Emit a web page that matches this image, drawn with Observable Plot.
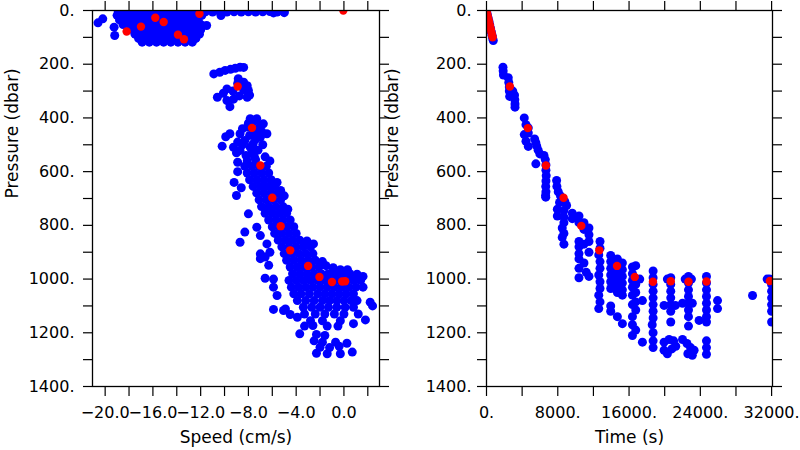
<!DOCTYPE html>
<html><head><meta charset="utf-8">
<script src="https://cdn.jsdelivr.net/npm/d3@7"></script>
<script src="https://cdn.jsdelivr.net/npm/@observablehq/plot@0.6"></script>
<style>
html,body{margin:0;padding:0;background:#fff;}
#wrap{position:relative;width:800px;height:450px;overflow:hidden;background:#fff;}
#left,#right{position:absolute;top:0;}
#left{left:0;width:400px;}
#right{left:380px;width:420px;}
</style></head><body>
<div id="wrap"><div id="left"></div><div id="right"></div></div>
<script>
// ---- Data: left panel (speed cm/s, pressure dbar)
const leftBlue = [
[-18.9,4],[-18.3,4],[-17.6,4],[-17.0,4],[-16.4,4],[-15.8,4],[-15.2,4],[-14.6,4],[-14.0,4],[-13.4,4],[-12.8,4],[-12.2,4],[-11.6,5],[-11.0,6],[-10.4,5],[-9.8,6],[-9.2,5],[-8.6,6],[-8.0,5],[-7.4,6],[-6.8,5],[-6.2,4],[-5.6,6],[-5.0,5],
[-19.0,18],[-18.5,18],[-17.9,18],[-17.3,18],[-16.7,18],[-16.1,18],[-15.5,18],[-14.9,18],[-14.3,18],[-13.7,18],[-13.1,18],[-12.5,18],[-11.9,18],[-10.3,19],[-5.9,9],[-5.0,8],
[-18.8,35],[-18.2,35],[-17.6,35],[-17.0,35],[-16.4,35],[-15.8,35],[-15.2,35],[-14.6,35],[-14.0,35],[-13.4,35],[-12.8,35],[-12.2,35],
[-18.5,52],[-17.9,52],[-17.3,52],[-16.7,52],[-16.1,52],[-15.5,52],[-14.9,52],[-14.3,52],[-13.7,52],[-13.1,52],[-12.5,52],[-12.0,52],[-11.5,56],
[-17.9,70],[-17.3,70],[-16.7,70],[-16.1,70],[-15.5,70],[-14.9,70],[-14.3,70],[-13.7,70],[-13.1,70],[-12.5,70],[-12.0,72],
[-17.5,88],[-16.9,88],[-16.3,88],[-15.7,88],[-15.1,88],[-14.5,88],[-13.9,88],[-13.3,88],[-12.7,88],[-12.1,88],
[-17.2,104],[-16.6,104],[-16.0,104],[-15.4,104],[-14.8,104],[-14.2,104],[-13.6,104],[-13.0,104],[-12.4,104],
[-16.9,118],[-16.3,118],[-15.7,118],[-15.1,118],[-14.5,118],[-13.9,118],[-13.3,118],[-12.7,118],
[-20.6,46],[-20.2,31],[-19.25,62],[-19.2,93],
[-10.9,236],[-10.4,230],[-9.95,223],[-9.5,219],[-9.1,215],[-8.7,211],[-8.4,212],
[-8.85,254],[-8.4,267],[-8.9,272],[-8.1,280],[-8.0,298],[-8.4,295],[-7.9,315],[-9.3,300],[-9.8,292],[-10.6,323],[-10.1,308],[-9.8,335],[-9.55,358],[-9.25,330],[-8.75,318],[-8.1,323],
[-7.85,403],[-7.3,403],[-6.75,422],[-6.45,459],[-7.0,472],[-7.6,496],[-8.3,484],[-8.7,459],[-8.1,434],[-7.4,445],[-7.0,430],[-9.55,459],[-9.25,509],[-10.2,505],[-8.7,521],[-7.85,509],[-7.2,520],[-8.2,540],[-7.5,545],
[-7.6,415],[-8.0,420],[-7.3,460],[-7.9,465],[-8.5,500],[-7.4,480],[-6.9,450],[-8.9,490],[-9.9,470],[-9.0,530],[-7.7,530],[-6.8,500],[-8.5,440],
[-8.9,565],[-8.1,560],[-7.4,555],[-6.6,545],[-6.2,560],
[-8.3,580],[-7.7,580],[-7.1,580],[-6.5,580],
[-8.1,605],[-7.5,605],[-6.9,605],[-6.3,605],[-8.9,600],
[-7.9,630],[-7.3,630],[-6.7,630],[-6.1,630],[-5.6,640],[-9.2,640],
[-7.6,655],[-7.0,655],[-6.4,655],[-5.8,655],[-8.6,660],[-5.3,670],
[-7.3,680],[-6.7,680],[-6.1,680],[-5.5,680],[-9.0,689],[-5.0,690],
[-7.1,705],[-6.5,705],[-5.9,705],[-5.3,705],
[-6.9,730],[-6.3,730],[-5.7,730],[-5.1,730],[-4.7,740],
[-6.6,755],[-6.0,755],[-5.4,755],[-4.8,755],[-8.0,757],
[-6.3,780],[-5.7,780],[-5.1,780],[-4.5,780],
[-6.0,805],[-5.4,805],[-4.8,805],[-4.2,805],[-7.3,807],
[-5.8,830],[-5.2,830],[-4.6,830],[-4.0,830],[-8.3,825],[-7.0,838],
[-5.5,855],[-4.9,855],[-4.3,855],[-3.7,855],[-3.1,858],[-8.7,863],
[-5.2,880],[-4.6,880],[-4.0,880],[-3.4,880],[-2.8,880],[-6.45,869],[-2.55,869],
[-5.0,905],[-4.4,905],[-3.8,905],[-3.2,905],[-2.6,905],[-7.0,906],[-6.2,900],
[-4.8,930],[-4.2,930],[-3.6,930],[-3.0,930],[-2.4,930],[-1.8,935],[-6.6,918],[-7.0,924],
[-4.5,955],[-3.9,955],[-3.3,955],[-2.7,955],[-2.1,955],[-1.5,950],[-0.9,958],[-0.3,965],[0.3,965],[-6.3,949],
[-4.3,980],[-3.7,980],[-3.1,980],[-2.5,980],[-1.9,980],[-1.3,980],[-0.7,980],[-0.1,980],[0.5,980],[1.1,982],[1.6,990],
[-4.6,1005],[-4.0,1005],[-3.4,1005],[-2.8,1005],[-2.2,1005],[-1.6,1005],[-1.0,1005],[-0.4,1005],[0.2,1005],[0.8,1005],[1.4,1005],[-6.6,997],[-5.9,1000],
[-4.4,1030],[-3.8,1030],[-3.2,1030],[-2.6,1030],[-2.0,1030],[-1.4,1030],[-0.8,1030],[-0.2,1030],[0.4,1030],[1.0,1030],[1.6,1030],[-5.9,1030],
[-4.2,1055],[-3.6,1055],[-2.9,1055],[-2.2,1055],[-1.6,1055],[-1.0,1055],[-0.4,1055],[0.2,1055],[0.8,1055],[-5.6,1061],
[-3.9,1080],[-3.2,1080],[-2.5,1080],[-1.8,1080],[-1.2,1080],[-0.6,1080],[0.0,1080],[0.6,1080],[1.1,1080],[2.2,1086],
[-3.4,1105],[-2.7,1105],[-2.0,1105],[-1.3,1105],[-0.6,1105],[0.1,1105],[0.8,1105],[2.4,1100],[-5.9,1113],[-4.9,1111],[-5.06,1117],
[-4.5,1132],[-3.3,1130],[-2.4,1130],[-1.6,1130],[-0.8,1130],[0.0,1130],[1.2,1130],
[-3.9,1142],[-2.8,1155],[-1.8,1155],[-0.3,1155],[0.8,1166],[1.8,1152],
[-3.3,1175],[-2.6,1173],[-1.4,1175],[-0.5,1175],
[-3.7,1204],[-2.3,1206],[-1.6,1210],
[-2.5,1230],[-1.8,1235],[-0.7,1235],[0.25,1239],
[-2.0,1254],[-1.2,1255],[-0.4,1250],
[-2.3,1276],[-1.4,1278],[-0.3,1278],[0.7,1272]
];
const leftRed = [[-18.2,78],[-17.0,60],[-15.8,27],[-15.1,43],[-13.9,90],[-13.4,107],[-12.1,12],[-0.05,0],[-8.9,283],[-7.7,437],[-7.0,577],[-6.0,697],[-5.3,803],[-4.5,893],[-3.0,951],[-2.05,992],[-1.0,1011],[-0.15,1009],[0.1,1008]];

// ---- Data: right panel (time s, pressure dbar)
const rightBlue = [
[0,3],[90,15],[180,28],[270,40],[360,53],[450,66],[540,80],[620,92],[700,104],[760,112],
[1850,211],[1870,225],[1900,240],
[2440,250],[2500,268],[2560,285],[2560,300],[2600,320],[2950,300],[3000,315],[3150,315],[3180,332],[3200,348],[3200,360],
[4240,400],[4430,425],[4690,437],[4690,456],[4240,462],[4430,487],[4690,506],
[5400,478],[5540,492],[5640,505],[5800,520],[5990,534],[5540,571],
[6450,540],[6600,555],[6670,575],[6670,595],[6700,615],[6670,635],[6650,655],[6670,675],[6650,695],[6630,689],
[7870,633],[7900,655],[8050,675],[8300,690],[8550,700],[8800,712],[8990,726],[8200,715],
[7950,740],[7950,765],[8690,745],[8690,770],[8690,790],[8500,810],[8690,830],[8500,845],[8690,870],[9630,755],[9630,775],
[10380,765],[10380,790],[10940,790],[10940,815],[11500,810],[11500,835],[10380,860],[10380,880],[10940,870],[11500,860],[10380,905],[10380,925],[10940,940],[10380,960],[10380,995],[11500,990],[11200,975],[11500,900],
[12740,860],[12740,885],[12600,910],[12740,935],[12740,960],[12600,985],[12740,1010],[12740,1035],[12600,1060],[12740,1085],[12600,1110],
[13940,912],[13940,935],[13940,960],[13940,985],[13940,1010],[13940,1035],[13940,1100],[13940,1120],
[14690,925],[14690,950],[14690,975],[14690,1000],[14690,1025],[14690,1050],[14690,1140],
[15250,940],[15250,965],[15250,990],[15250,1015],[15250,1040],[15250,1060],[15250,1166],
[16380,955],[16750,950],[16380,980],[16380,1005],[16750,1020],[16380,1030],[16750,1050],[16380,1060],[16750,1085],[16380,1095],[16750,1115],[16380,1140],[17500,1080],[16380,1170],[16750,1190],[16380,1210],[17500,1235],[17200,1000],
[18700,970],[18700,995],[18700,1020],[18700,1045],[18700,1070],[18700,1095],[18700,1120],[18700,1145],[18600,1170],[18700,1200],[18700,1230],[18700,1255],
[20680,995],[20680,1020],[20300,1000],[20680,1045],[20680,1070],[20680,1095],[19930,1098],[21200,1098],[20680,1120],[20680,1160],[19930,1235],[20500,1225],[21000,1230],[19930,1265],[20300,1278],[20800,1260],[21240,1250],
[22670,990],[22300,1000],[23000,1000],[22670,1015],[22670,1040],[22670,1065],[22000,1090],[22670,1090],[23100,1090],[22670,1115],[22670,1140],[22670,1175],[23860,1154],[22000,1225],[22500,1240],[22900,1255],[23300,1265],[22600,1278],[23100,1284],
[24690,990],[24690,1015],[24690,1040],[24690,1065],[24690,1090],[24690,1115],[24690,1140],[24690,1160],[24690,1230],[24690,1255],[24690,1280],
[25930,1080],[25930,1110],
[29860,1061],
[31500,1000],[31810,1000],[32000,1020],[32000,1045],[32000,1070],[32000,1095],[32000,1120],[32000,1160]
];
const rightRed = [[0,2],[70,12],[140,22],[210,32],[280,42],[350,52],[420,62],[490,72],[560,82],[630,92],[690,100],
[2620,283],[4640,438],[6670,577],[8650,697],[10640,802],[12660,893],[14650,951],[16640,992],[18680,1010],[20680,1008],[22670,1010],[24690,1009],[31810,1007]];

// ---- Ticks / labels
const pressureTicks = [0,100,200,300,400,500,600,700,800,900,1000,1100,1200,1300,1400];
const pressureLabels = [0,200,400,600,800,1000,1200,1400];
const speedTicks = [-20,-18,-16,-14,-12,-10,-8,-6,-4,-2,0,2];
const speedLabels = [-20,-16,-12,-8,-4,0];
const timeTicks = [0,4000,8000,12000,16000,20000,24000,28000,32000];
const timeLabels = [0,8000,16000,24000,32000];

const FONT = "DejaVu Sans";
const fmtP = d => pressureLabels.includes(d) ? d + "." : "";
const fmtS = d => speedLabels.includes(d) ? d.toFixed(1).replace("-", "\u2212") : "";
const fmtT = d => timeLabels.includes(d) ? d + "." : "";

function panel({blue, red, xDomain, xTicks, xFmt, xTitle, mL, mR, width, yPad, yTitleDx}) {
  return Plot.plot({
    width, height: 450,
    marginLeft: mL, marginRight: mR, marginTop: 10, marginBottom: 64,
    style: {fontFamily: FONT, fontSize: "16px", color: "black", background: "transparent", overflow: "visible"},
    x: {domain: xDomain},
    y: {domain: [0, 1400], reverse: true},
    marks: [
      Plot.dot(blue, {x: d => d[0], y: d => d[1], r: 4.5, fill: "#0000ff", clip: true}),
      Plot.dot(red, {x: d => d[0], y: d => d[1], r: 4.2, fill: "#ff0000", clip: true}),
      Plot.frame({stroke: "black", strokeWidth: 1.3}),
      Plot.axisX(xTicks, {anchor: "bottom", tickSize: 10, tickPadding: 10, tickFormat: xFmt, label: null, strokeWidth: 1.2, fontSize: 16, letterSpacing: 0.3}),
      Plot.axisX(xTicks, {anchor: "top", tickSize: 10, tickFormat: () => "", label: null, strokeWidth: 1.2}),
      Plot.axisY(pressureTicks, {anchor: "left", tickSize: 9, tickPadding: yPad, tickFormat: fmtP, label: null, strokeWidth: 1.2, fontSize: 16, letterSpacing: 0.3}),
      Plot.axisY(pressureTicks, {anchor: "right", tickSize: 9, tickFormat: () => "", label: null, strokeWidth: 1.2}),
      Plot.text([xTitle], {text: d => d, frameAnchor: "bottom", dy: 56, fontSize: 17, letterSpacing: 0.7, fill: "black"}),
      Plot.text(["Pressure (dbar)"], {text: d => d, frameAnchor: "left", dx: yTitleDx, rotate: -90, fontSize: 17, letterSpacing: 0.7, fill: "black"})
    ]
  });
}

document.getElementById("left").append(panel({
  blue: leftBlue, red: leftRed, xDomain: [-21.06, 2.98], xTicks: speedTicks, xFmt: fmtS,
  xTitle: "Speed (cm/s)", mL: 92, mR: 21, width: 400, yPad: 9, yTitleDx: -80
}));
document.getElementById("right").append(panel({
  blue: rightBlue, red: rightRed, xDomain: [0, 32100], xTicks: timeTicks, xFmt: fmtT,
  xTitle: "Time (s)", mL: 106, mR: 28, width: 420, yPad: 6, yTitleDx: -94
}));
</script>
</body></html>
